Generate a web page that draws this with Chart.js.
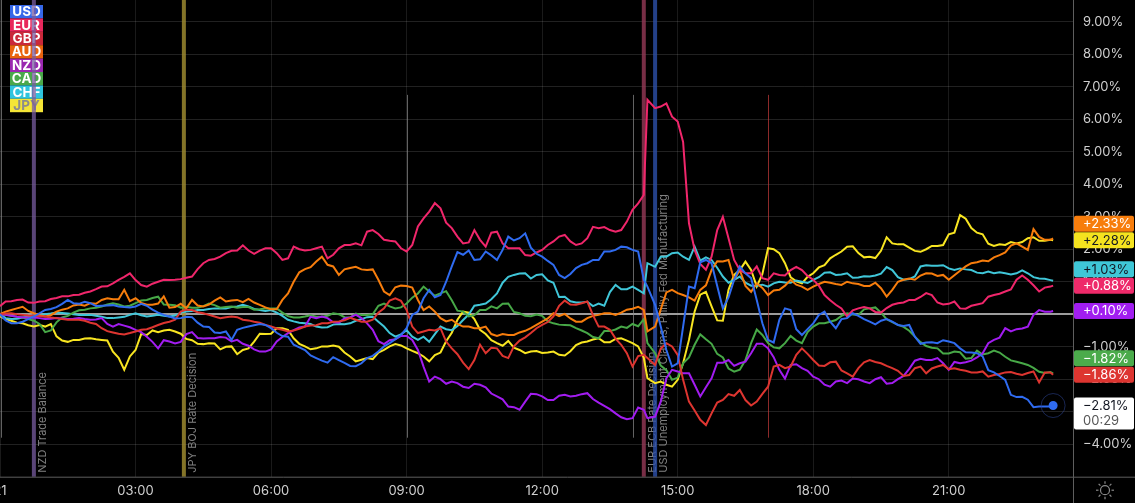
<!DOCTYPE html>
<html>
<head>
<meta charset="utf-8">
<script src="https://cdn.jsdelivr.net/npm/chart.js@4.4.1/dist/chart.umd.min.js"></script>
<style>
  html, body { margin: 0; padding: 0; background: #000; }
  #wrap { width: 1135px; height: 503px; position: relative; }
</style>
</head>
<body>
<div id="wrap"><canvas id="myChart"></canvas></div>
<script>
// hours since 00:00, one row per hour (7.5 min steps, a few shifted points around the news)
const times = [
  0, 0.125, 0.25, 0.375, 0.5, 0.625, 0.75, 0.875,
  1, 1.125, 1.25, 1.375, 1.5, 1.625, 1.75, 1.875,
  2, 2.125, 2.25, 2.375, 2.5, 2.625, 2.75, 2.875,
  3, 3.125, 3.25, 3.375, 3.5, 3.625, 3.75, 3.875,
  4, 4.125, 4.25, 4.375, 4.5, 4.625, 4.75, 4.875,
  5, 5.125, 5.25, 5.375, 5.5, 5.625, 5.75, 5.875,
  6, 6.125, 6.25, 6.375, 6.5, 6.625, 6.75, 6.875,
  7, 7.125, 7.25, 7.375, 7.5, 7.625, 7.75, 7.875,
  8, 8.125, 8.25, 8.375, 8.5, 8.625, 8.75, 8.875,
  9, 9.125, 9.25, 9.375, 9.5, 9.625, 9.75, 9.875,
  10, 10.125, 10.25, 10.375, 10.5, 10.625, 10.75, 10.875,
  11, 11.125, 11.25, 11.375, 11.5, 11.625, 11.75, 11.875,
  12, 12.125, 12.25, 12.375, 12.5, 12.625, 12.75, 12.875,
  13, 13.125, 13.25, 13.375, 13.5, 13.625, 13.75, 13.875,
  14, 14.125, 14.25, 14.33, 14.5, 14.625, 14.75, 14.875,
  15, 15.12, 15.25, 15.375, 15.5, 15.625, 15.75, 15.875,
  16, 16.125, 16.25, 16.375, 16.5, 16.625, 16.75, 16.875,
  17, 17.125, 17.25, 17.375, 17.5, 17.625, 17.75, 17.875,
  18, 18.125, 18.25, 18.375, 18.5, 18.625, 18.75, 18.875,
  19, 19.125, 19.25, 19.375, 19.5, 19.625, 19.75, 19.875,
  20, 20.125, 20.25, 20.375, 20.5, 20.625, 20.75, 20.875,
  21, 21.125, 21.25, 21.375, 21.5, 21.625, 21.75, 21.875,
  22, 22.125, 22.25, 22.375, 22.5, 22.625, 22.75, 22.875,
  23, 23.125, 23.25, 23.31
];

// % change per currency, same rows as times
const usd = [
  0.00, -0.19, -0.28, -0.28, -0.23, -0.15, -0.07, 0.03,
  0.13, 0.16, 0.22, 0.32, 0.44, 0.34, 0.32, 0.38,
  0.34, 0.25, 0.26, 0.27, 0.28, 0.24, 0.22, 0.21,
  0.24, 0.32, 0.26, 0.14, 0.05, -0.02, -0.07, -0.13,
  -0.12, -0.08, -0.09, -0.26, -0.38, -0.39, -0.56, -0.58,
  -0.53, -0.79, -0.48, -0.42, -0.38, -0.34, -0.30, -0.33,
  -0.43, -0.57, -0.67, -0.69, -0.94, -1.02, -1.10, -1.27,
  -1.35, -1.43, -1.49, -1.32, -1.41, -1.50, -1.59, -1.60,
  -1.51, -1.35, -1.28, -1.15, -0.99, -0.89, -0.77, -0.64,
  -0.43, -0.02, 0.08, 0.49, 0.75, 0.52, 0.59, 1.00,
  1.47, 1.91, 1.83, 1.96, 1.67, 1.69, 1.93, 1.81,
  1.67, 1.98, 2.39, 2.27, 2.34, 2.49, 2.05, 1.86,
  1.77, 1.64, 1.52, 1.21, 1.11, 1.24, 1.42, 1.52,
  1.57, 1.67, 1.67, 1.93, 1.93, 1.98, 2.08, 2.06,
  1.98, 1.93, 1.06, 0.85, 0.29, -0.38, -1.10, -1.61,
  -1.51, -0.38, 0.85, 0.80, 1.60, 1.67, 1.57, 0.87,
  0.18, 0.52, 1.06, 1.47, 1.26, 1.11, 0.44, -0.28,
  -0.79, -0.87, -0.17, 0.18, 0.13, -0.46, -0.64, -0.46,
  -0.28, -0.02, 0.08, -0.23, -0.43, -0.15, -0.12, 0.03,
  -0.05, -0.15, -0.23, -0.31, -0.20, -0.15, -0.23, -0.33,
  -0.36, -0.33, -0.69, -0.91, -0.87, -0.86, -0.89, -0.80,
  -0.84, -0.89, -1.05, -1.17, -1.18, -1.20, -1.30, -1.72,
  -1.79, -1.90, -2.02, -2.48, -2.55, -2.54, -2.63, -2.86,
  -2.84, -2.84, -2.84, -2.81
];
const eur = [
  0.25, 0.39, 0.40, 0.44, 0.45, 0.36, 0.35, 0.39,
  0.40, 0.47, 0.50, 0.55, 0.55, 0.59, 0.60, 0.66,
  0.70, 0.77, 0.85, 0.86, 0.95, 1.06, 1.15, 1.26,
  1.05, 0.90, 0.85, 0.94, 1.00, 1.06, 1.05, 1.06,
  1.08, 1.12, 1.16, 1.39, 1.57, 1.67, 1.70, 1.77,
  1.88, 1.95, 1.96, 2.12, 1.96, 1.86, 1.96, 2.03,
  2.03, 1.88, 1.67, 1.72, 2.08, 2.00, 1.96, 1.98,
  2.03, 2.08, 1.72, 1.83, 2.03, 2.13, 2.13, 2.18,
  2.12, 2.54, 2.59, 2.47, 2.29, 2.26, 2.24, 2.03,
  1.93, 2.13, 2.70, 2.95, 3.16, 3.42, 3.26, 2.82,
  2.65, 2.39, 2.18, 2.21, 2.59, 2.29, 2.08, 2.51,
  2.54, 2.18, 2.03, 2.03, 2.03, 1.82, 1.80, 1.90,
  1.98, 2.13, 2.24, 2.39, 2.44, 2.24, 2.13, 2.18,
  2.34, 2.69, 2.65, 2.68, 2.59, 2.54, 2.59, 2.85,
  3.21, 3.41, 3.67, 6.60, 6.34, 6.39, 6.49, 6.08,
  5.93, 5.30, 2.80, 1.98, 1.55, 1.37, 1.77, 2.59,
  3.00, 2.34, 1.67, 1.36, 1.26, 1.26, 1.47, 1.11,
  1.06, 1.26, 1.21, 1.19, 1.36, 1.46, 1.36, 1.18,
  1.06, 0.88, 0.59, 0.43, 0.29, 0.18, -0.07, 0.12,
  0.18, 0.22, 0.18, 0.07, 0.05, 0.19, 0.29, 0.34,
  0.36, 0.44, 0.44, 0.53, 0.65, 0.59, 0.36, 0.30,
  0.32, 0.39, 0.18, 0.17, 0.26, 0.30, 0.34, 0.54,
  0.59, 0.63, 0.70, 0.76, 1.06, 1.19, 1.06, 0.89,
  0.70, 0.82, 0.85, 0.88
];
const gbp = [
  0.00, 0.02, 0.03, 0.00, -0.02, -0.04, -0.05, -0.06,
  -0.07, -0.10, -0.12, -0.15, -0.17, -0.17, -0.17, -0.20,
  -0.26, -0.30, -0.43, -0.52, -0.56, -0.60, -0.62, -0.58,
  -0.53, -0.48, -0.46, -0.40, -0.33, -0.27, -0.23, -0.17,
  0.08, 0.14, 0.13, 0.06, 0.03, -0.02, -0.07, -0.12,
  -0.09, -0.07, -0.09, -0.17, -0.19, -0.23, -0.26, -0.33,
  -0.38, -0.44, -0.48, -0.53, -0.50, -0.45, -0.38, -0.35,
  -0.34, -0.28, -0.28, -0.23, -0.22, -0.19, -0.11, -0.17,
  -0.23, -0.23, -0.17, 0.05, 0.18, 0.42, 0.49, 0.41,
  0.13, -0.38, -0.58, -0.53, -0.48, -0.50, -0.43, -0.84,
  -1.05, -1.23, -1.49, -1.69, -1.41, -0.94, -1.20, -1.03,
  -1.05, -1.28, -1.35, -0.99, -0.81, -0.71, -0.58, -0.43,
  -0.33, -0.24, -0.07, 0.26, 0.42, 0.30, 0.29, 0.34,
  0.39, -0.03, -0.38, -0.38, -0.48, -0.75, -0.94, -1.20,
  -1.61, -1.29, -1.25, -1.35, -1.56, -1.06, -0.89, -0.99,
  -1.25, -2.02, -2.69, -2.96, -3.25, -3.41, -3.05, -2.72,
  -2.64, -2.46, -2.51, -2.33, -2.64, -2.81, -2.69, -2.45,
  -2.23, -1.61, -1.56, -1.66, -1.61, -1.25, -1.05, -1.22,
  -1.41, -1.58, -1.59, -1.48, -1.46, -1.73, -1.82, -1.92,
  -1.66, -1.48, -1.41, -1.47, -1.51, -1.59, -1.66, -1.74,
  -1.90, -1.87, -1.66, -1.61, -1.82, -1.67, -1.61, -1.56,
  -1.69, -1.66, -1.71, -1.74, -1.79, -1.79, -1.76, -1.92,
  -1.87, -1.84, -1.79, -1.78, -1.83, -1.87, -1.81, -1.76,
  -2.10, -1.79, -1.79, -1.86
];
const aud = [
  0.00, 0.08, 0.13, 0.18, 0.23, 0.10, 0.03, -0.03,
  -0.07, -0.03, 0.08, 0.14, 0.18, 0.27, 0.30, 0.26,
  0.34, 0.32, 0.44, 0.49, 0.46, 0.46, 0.75, 0.40,
  0.49, 0.35, 0.29, 0.29, 0.33, 0.55, 0.20, 0.22,
  0.32, 0.18, 0.44, 0.27, 0.24, 0.30, 0.42, 0.52,
  0.39, 0.42, 0.44, 0.37, 0.47, 0.36, 0.29, 0.21,
  0.15, 0.15, 0.44, 0.64, 1.00, 1.29, 1.39, 1.45,
  1.62, 1.77, 1.52, 1.47, 1.21, 1.38, 1.42, 1.46,
  1.38, 1.36, 1.38, 1.06, 0.70, 0.59, 0.83, 0.88,
  0.87, 0.82, 0.44, 0.13, 0.24, 0.08, -0.12, -0.22,
  -0.17, -0.30, -0.38, -0.38, -0.43, -0.43, -0.38, -0.61,
  -0.67, -0.61, -0.64, -0.64, -0.56, -0.51, -0.43, -0.33,
  -0.23, -0.13, 0.03, -0.06, 0.01, -0.13, -0.23, -0.23,
  -0.12, -0.05, -0.02, 0.03, 0.03, -0.02, 0.05, 0.14,
  0.17, 0.23, 0.13, -0.53, -0.38, 0.15, 0.67, 0.75,
  0.65, 0.59, 0.52, 0.42, 0.75, 0.89, 1.36, 1.63,
  1.62, 1.67, 1.06, 1.36, 0.87, 0.69, 0.95, 0.81,
  0.59, 0.73, 0.75, 0.88, 1.06, 0.91, 0.85, 0.75,
  0.85, 0.93, 1.00, 0.97, 0.93, 0.90, 1.00, 0.95,
  0.93, 0.87, 0.87, 0.97, 0.80, 0.54, 0.75, 1.00,
  1.06, 1.10, 1.06, 1.19, 1.26, 1.25, 1.18, 1.21,
  1.06, 1.20, 1.34, 1.47, 1.57, 1.60, 1.65, 1.63,
  1.75, 1.82, 1.90, 2.11, 2.18, 2.08, 1.98, 2.62,
  2.38, 2.29, 2.29, 2.33
];
const nzd = [
  0.00, -0.02, -0.05, -0.08, -0.10, -0.10, -0.10, -0.12,
  -0.15, -0.14, -0.12, -0.13, -0.15, -0.14, -0.12, -0.15,
  -0.17, -0.16, -0.12, -0.30, -0.38, -0.30, -0.35, -0.40,
  -0.48, -0.55, -0.69, -0.85, -1.05, -0.80, -0.84, -0.90,
  -0.85, -0.61, -0.55, -0.73, -0.75, -0.74, -0.74, -0.70,
  -0.72, -0.84, -0.79, -0.91, -0.97, -1.08, -1.15, -1.15,
  -1.08, -0.84, -0.70, -0.58, -0.49, -0.41, -0.38, -0.08,
  -0.12, -0.07, -0.12, -0.25, -0.26, -0.13, -0.10, -0.01,
  -0.12, -0.28, -0.48, -0.83, -0.92, -0.80, -0.77, -0.67,
  -0.67, -0.79, -1.10, -1.61, -2.07, -1.92, -2.00, -2.14,
  -2.07, -2.12, -2.23, -2.27, -2.14, -2.17, -2.25, -2.44,
  -2.53, -2.62, -2.84, -2.86, -2.94, -2.69, -2.45, -2.46,
  -2.53, -2.64, -2.64, -2.51, -2.48, -2.53, -2.51, -2.46,
  -2.43, -2.61, -2.72, -2.82, -2.92, -3.05, -3.17, -3.23,
  -3.20, -2.87, -2.94, -3.20, -3.15, -2.69, -1.97, -1.71,
  -1.76, -1.82, -1.82, -2.17, -2.53, -2.25, -1.97, -1.49,
  -1.49, -1.41, -1.59, -1.51, -1.46, -1.20, -0.91, -0.91,
  -1.05, -1.32, -1.71, -1.98, -1.56, -1.54, -1.66, -1.74,
  -1.92, -2.00, -2.17, -2.23, -2.07, -2.04, -2.12, -1.98,
  -2.00, -2.07, -2.12, -2.00, -1.94, -2.14, -2.12, -2.00,
  -1.90, -1.68, -1.43, -1.37, -1.41, -1.41, -1.35, -1.51,
  -1.71, -1.47, -1.51, -1.48, -1.43, -1.33, -1.20, -0.89,
  -0.79, -0.72, -0.43, -0.53, -0.46, -0.44, -0.38, -0.02,
  0.13, 0.08, 0.08, 0.10
];
const cad = [
  0.00, -0.02, -0.05, -0.08, -0.10, -0.15, -0.20, -0.30,
  -0.55, -0.50, -0.25, -0.10, -0.05, 0.05, 0.12, 0.14,
  0.18, 0.20, 0.24, 0.30, 0.34, 0.30, 0.24, 0.26,
  0.34, 0.42, 0.44, 0.50, 0.54, 0.30, 0.29, 0.28,
  0.20, 0.23, 0.20, 0.20, 0.25, 0.33, 0.28, 0.20,
  0.22, 0.24, 0.20, 0.22, 0.22, 0.14, 0.15, 0.18,
  0.18, 0.18, 0.05, -0.06, -0.10, -0.10, -0.07, -0.03,
  -0.08, -0.08, -0.05, 0.03, 0.00, -0.09, -0.10, 0.02,
  -0.02, -0.02, 0.00, 0.26, 0.33, 0.24, 0.18, 0.21,
  0.33, 0.51, 0.64, 0.85, 0.70, 0.57, 0.64, 0.71,
  0.43, 0.11, 0.08, -0.07, -0.03, 0.13, 0.13, 0.24,
  0.18, 0.32, 0.33, 0.07, 0.03, -0.05, -0.06, -0.01,
  -0.05, -0.22, -0.28, -0.32, -0.33, -0.34, -0.43, -0.50,
  -0.58, -0.70, -0.74, -0.52, -0.52, -0.47, -0.38, -0.42,
  -0.30, -0.37, -0.15, -0.89, -1.20, -1.58, -1.72, -2.02,
  -1.95, -1.51, -1.33, -0.94, -0.62, -0.77, -0.91, -1.22,
  -1.33, -1.67, -1.77, -1.71, -1.41, -0.89, -0.47, -0.64,
  -0.89, -1.02, -1.05, -0.89, -0.67, -0.81, -0.89, -0.55,
  -0.38, -0.28, -0.28, -0.23, -0.18, -0.05, 0.03, -0.01,
  -0.02, 0.15, 0.18, 0.21, 0.05, -0.15, -0.24, -0.33,
  -0.39, -0.51, -0.69, -0.86, -0.98, -1.03, -1.05, -1.21,
  -1.21, -1.15, -1.17, -1.37, -1.35, -1.12, -1.24, -1.20,
  -1.12, -1.18, -1.31, -1.42, -1.46, -1.51, -1.56, -1.65,
  -1.77, -1.81, -1.78, -1.82
];
const chf = [
  0.00, -0.12, -0.15, -0.14, -0.10, -0.08, -0.05, -0.03,
  0.00, 0.02, 0.05, 0.04, 0.02, 0.00, -0.02, -0.02,
  -0.02, -0.05, -0.08, -0.12, -0.12, -0.10, -0.08, -0.02,
  0.03, -0.03, -0.07, -0.05, -0.02, -0.05, -0.07, -0.04,
  0.05, 0.08, 0.10, 0.13, 0.13, 0.16, 0.18, 0.18,
  0.18, 0.22, 0.24, 0.29, 0.24, 0.16, 0.13, 0.10,
  0.13, 0.05, -0.05, -0.17, -0.22, -0.26, -0.28, -0.30,
  -0.38, -0.41, -0.40, -0.32, -0.30, -0.31, -0.28, -0.20,
  -0.15, -0.09, -0.08, -0.23, -0.38, -0.58, -0.69, -0.62,
  -0.49, -0.69, -0.79, -0.69, -0.85, -0.61, -0.38, -0.46,
  -0.49, -0.36, -0.18, -0.01, 0.26, 0.29, 0.33, 0.46,
  0.64, 0.97, 1.15, 1.21, 1.25, 1.26, 1.10, 1.21,
  1.23, 1.04, 0.97, 0.53, 0.54, 0.40, 0.36, 0.36,
  0.38, 0.25, 0.33, 0.26, 0.68, 0.90, 0.77, 0.77,
  0.85, 0.75, 0.64, 1.57, 1.46, 1.77, 1.77, 1.88,
  1.90, 1.77, 1.67, 2.08, 1.65, 1.75, 1.67, 1.43,
  1.16, 0.97, 1.06, 1.16, 0.97, 0.88, 0.88, 0.91,
  0.85, 0.95, 1.00, 0.98, 0.97, 1.04, 1.00, 0.96,
  1.06, 1.14, 1.28, 1.29, 1.21, 1.22, 1.26, 1.12,
  1.13, 1.17, 1.16, 1.19, 1.25, 1.45, 1.36, 1.14,
  1.06, 1.08, 1.16, 1.47, 1.51, 1.49, 1.49, 1.51,
  1.41, 1.36, 1.41, 1.38, 1.36, 1.28, 1.26, 1.31,
  1.26, 1.29, 1.26, 1.22, 1.26, 1.35, 1.26, 1.14,
  1.10, 1.09, 1.05, 1.03
];
const jpy = [
  -0.07, -0.15, -0.20, -0.26, -0.28, -0.34, -0.38, -0.33,
  -0.38, -0.30, -0.68, -0.81, -0.85, -0.79, -0.79, -0.75,
  -0.74, -0.77, -0.79, -0.81, -1.15, -1.34, -1.71, -1.30,
  -1.10, -0.61, -0.64, -0.50, -0.55, -0.50, -0.48, -0.53,
  -0.60, -0.76, -0.80, -0.91, -0.92, -0.89, -0.90, -1.08,
  -1.00, -0.99, -1.23, -1.10, -1.05, -0.84, -0.60, -0.61,
  -0.60, -0.43, -0.43, -0.48, -0.74, -0.91, -0.99, -1.08,
  -1.05, -0.99, -0.99, -0.96, -1.00, -1.18, -1.30, -1.45,
  -1.40, -1.35, -1.38, -1.18, -1.10, -0.99, -0.92, -0.96,
  -1.05, -1.13, -1.20, -1.30, -1.45, -1.26, -1.18, -0.83,
  -0.57, -0.17, 0.08, 0.05, -0.15, -0.48, -0.61, -0.80,
  -0.89, -0.97, -0.82, -1.03, -1.10, -1.20, -1.15, -1.13,
  -1.19, -1.18, -1.15, -1.25, -1.27, -1.14, -0.95, -0.87,
  -0.84, -0.78, -0.74, -0.86, -0.86, -0.76, -0.74, -0.81,
  -0.89, -0.99, -1.34, -1.97, -2.12, -2.07, -2.17, -2.23,
  -2.02, -1.51, -0.79, 0.08, 0.60, 0.69, 0.24, -0.19,
  -0.20, 0.75, 1.21, 1.36, 1.62, 1.36, 0.85, 1.24,
  2.03, 2.00, 1.88, 1.57, 1.14, 1.01, 0.95, 1.15,
  1.26, 1.44, 1.51, 1.72, 1.83, 1.93, 2.08, 2.09,
  1.88, 1.75, 1.77, 1.73, 1.95, 2.37, 2.18, 2.15,
  2.15, 2.05, 1.95, 1.92, 2.00, 2.10, 2.10, 2.13,
  2.46, 2.51, 3.05, 2.94, 2.65, 2.51, 2.46, 2.17,
  2.10, 2.15, 2.13, 2.22, 2.18, 2.22, 2.34, 2.37,
  2.26, 2.26, 2.29, 2.28
];

const currencies = ["USD", "EUR", "GBP", "AUD", "NZD", "CAD", "CHF", "JPY"];
const seriesList = [usd, eur, gbp, aud, nzd, cad, chf, jpy];
const colors = ["#2f6bf0", "#f0266b", "#de3530", "#f77d0c", "#a21cf0", "#47a847", "#40c6d8", "#f8e521"];
const legendColors = ["#3567e8", "#e8285c", "#c9283a", "#e9630e", "#9a27b0", "#4aa84a", "#2ec4de", "#f4e536"];
const tagText = ["#131722", "#fff", "#fff", "#fff", "#fff", "#fff", "#131722", "#131722"];
const tagBg = ["#ffffff", "#ee2a6a", "#dd3530", "#f77d0c", "#a11ef0", "#4bab4b", "#3fc7d7", "#f5e31f"];

const xTicks = [0, 3, 6, 9, 12, 15, 18, 21];
const xTickLabels = ["21", "03:00", "06:00", "09:00", "12:00", "15:00", "18:00", "21:00"];
const yTicks = [-4, -3, -2, -1, 0, 1, 2, 3, 4, 5, 6, 7, 8, 9];

const events = [
  { t: 0.75, label: "NZD Trade Balance", color: "rgba(120,92,160,0.75)" },
  { t: 4.07, label: "JPY BOJ Rate Decision", color: "rgba(165,145,50,0.8)" },
  { t: 14.25, label: "EUR ECB Rate Decision", color: "rgba(150,58,88,0.8)" },
  { t: 14.5, label: "USD Unemployment Claims, Philly Fed Manufacturing", color: "rgba(45,80,170,0.8)" }
];
const minorEvents = [
  { t: 0.02, color: "rgba(140,140,140,0.7)", full: true },
  { t: 9, color: "rgba(140,140,140,0.7)" },
  { t: 14, color: "rgba(140,140,140,0.7)" },
  { t: 17, color: "rgba(200,60,60,0.7)" }
];
const countdown = "00:29";

Chart.defaults.font.family = "Inter, 'Noto Sans', sans-serif";

const fmtPct = (v) => (v < 0 ? "\u2212" : "") + Math.abs(v).toFixed(2) + "%";

const backdrop = {
  id: "backdrop",
  beforeDatasetsDraw(chart) {
    const ctx = chart.ctx;
    const xs = chart.scales.x, ys = chart.scales.y;
    const area = chart.chartArea;
    ctx.save();
    // legend boxes
    currencies.forEach((c, i) => {
      const top = 5 + i * 13.4;
      ctx.fillStyle = legendColors[i];
      ctx.fillRect(10, top, 33, 13.4);
      ctx.fillStyle = c === "JPY" ? "#8c8c8c" : "#fff";
      ctx.font = "bold 13.5px Inter";
      ctx.textAlign = "center";
      ctx.textBaseline = "middle";
      ctx.fillText(c, 26.5, top + 7.2);
    });
    // event labels
    events.forEach((e) => {
      const x = xs.getPixelForValue(e.t);
      ctx.save();
      ctx.translate(x + 8.5, area.bottom - 4);
      ctx.rotate(-Math.PI / 2);
      ctx.font = "11px Inter";
      ctx.fillStyle = "rgba(150,150,150,0.85)";
      ctx.textAlign = "left";
      ctx.textBaseline = "middle";
      ctx.fillText(e.label, 0, 0);
      ctx.restore();
    });
    // minor event lines
    minorEvents.forEach((e) => {
      const x = Math.round(xs.getPixelForValue(e.t)) + 0.5;
      ctx.strokeStyle = e.color;
      ctx.lineWidth = 1;
      ctx.beginPath();
      ctx.moveTo(x, e.full ? area.top : ys.getPixelForValue(6.75));
      ctx.lineTo(x, ys.getPixelForValue(-3.8));
      ctx.stroke();
    });
    // main event lines
    events.forEach((e) => {
      const x = xs.getPixelForValue(e.t);
      ctx.strokeStyle = e.color;
      ctx.lineWidth = 4;
      ctx.beginPath();
      ctx.moveTo(x, area.top);
      ctx.lineTo(x, area.bottom);
      ctx.stroke();
    });
    ctx.restore();
  },
  afterDraw(chart) {
    const ctx = chart.ctx;
    const xs = chart.scales.x, ys = chart.scales.y;
    const area = chart.chartArea;
    const W = chart.width, H = chart.height;
    ctx.save();
    // frame lines
    ctx.strokeStyle = "#5e5e5e";
    ctx.lineWidth = 1;
    ctx.beginPath();
    ctx.moveTo(area.right + 0.5, 0);
    ctx.lineTo(area.right + 0.5, H);
    ctx.moveTo(0, area.bottom + 0.5);
    ctx.lineTo(W, area.bottom + 0.5);
    ctx.stroke();

    // price axis labels
    ctx.font = "13px Inter";
    ctx.fillStyle = "#d0d0d0";
    ctx.textAlign = "left";
    ctx.textBaseline = "middle";
    yTicks.forEach((v) => {
      ctx.fillText(fmtPct(v), area.right + 10, ys.getPixelForValue(v));
    });

    // time axis labels
    ctx.textAlign = "center";
    xTicks.forEach((t, i) => {
      ctx.fillText(xTickLabels[i], xs.getPixelForValue(t), area.bottom + 14);
    });

    // halo around the last USD point
    const meta = chart.getDatasetMeta(0);
    const last = meta.data[meta.data.length - 1];
    ctx.strokeStyle = "rgba(45,70,150,0.55)";
    ctx.beginPath();
    ctx.arc(last.x, last.y, 12, 0, Math.PI * 2);
    ctx.stroke();

    // last value tags, pushed up when they overlap
    const tags = seriesList.map((s, i) => {
      const v = s[s.length - 1];
      const y = ys.getPixelForValue(v);
      return { i, v, top: y - 8, h: i === 0 ? 32 : 16 };
    }).sort((a, b) => b.top - a.top);
    let limit = Infinity;
    tags.forEach((t) => {
      if (t.top + t.h > limit) t.top = limit - t.h;
      limit = t.top - 0.5;
    });
    ctx.textAlign = "left";
    tags.forEach((t) => {
      ctx.fillStyle = tagBg[t.i];
      ctx.beginPath();
      ctx.roundRect(area.right + 1, t.top, 60, t.h, 2);
      ctx.fill();
      ctx.fillStyle = tagText[t.i];
      const txt = (t.v > 0 ? "+" : "") + fmtPct(t.v);
      ctx.fillText(txt, area.right + 10, t.top + 8.5);
      if (t.i === 0) {
        ctx.fillStyle = "#555";
        ctx.fillText(countdown, area.right + 10, t.top + 24);
      }
    });

    // settings (sun) icon
    const cx = area.right + 32, cy = area.bottom + 13.5;
    ctx.strokeStyle = "#8a8a8a";
    ctx.lineWidth = 1.2;
    ctx.beginPath();
    ctx.arc(cx, cy, 4.5, 0, Math.PI * 2);
    ctx.stroke();
    for (let k = 0; k < 8; k++) {
      const a = k * Math.PI / 4;
      ctx.beginPath();
      ctx.moveTo(cx + Math.cos(a) * 6.5, cy + Math.sin(a) * 6.5);
      ctx.lineTo(cx + Math.cos(a) * 9, cy + Math.sin(a) * 9);
      ctx.stroke();
    }
    ctx.restore();
  }
};

const datasets = seriesList.map((s, i) => ({
  label: currencies[i],
  data: s.map((v, k) => ({ x: times[k], y: v })),
  borderColor: colors[i],
  backgroundColor: colors[i],
  borderWidth: 2,
  pointRadius: i === 0 ? (c) => (c.dataIndex === s.length - 1 ? 3.5 : 0) : 0,
  fill: false,
  tension: 0
}));

new Chart("myChart", {
  type: "line",
  data: { datasets: datasets },
  options: {
    responsive: true,
    maintainAspectRatio: false,
    animation: false,
    layout: { padding: 0, autoPadding: false },
    plugins: { legend: { display: false }, tooltip: { enabled: false } },
    scales: {
      x: {
        type: "linear",
        min: 0,
        max: 23.75,
        afterBuildTicks: (s) => { s.ticks = xTicks.map((v) => ({ value: v })); },
        afterFit: (s) => { s.height = 26.3; },
        ticks: { display: false },
        grid: { color: "rgba(255,255,255,0.10)", drawTicks: false },
        border: { display: false }
      },
      y: {
        position: "right",
        min: -5,
        max: 9.67,
        afterBuildTicks: (s) => { s.ticks = yTicks.map((v) => ({ value: v })); },
        afterFit: (s) => { s.width = 62; },
        ticks: { display: false },
        grid: {
          color: (c) => (c.tick && c.tick.value === 0 ? "#9c9c9c" : "rgba(255,255,255,0.13)"),
          lineWidth: (c) => (c.tick && c.tick.value === 0 ? 2 : 1),
          drawTicks: false
        },
        border: { display: false }
      }
    }
  },
  plugins: [backdrop]
});
</script>
</body>
</html>
